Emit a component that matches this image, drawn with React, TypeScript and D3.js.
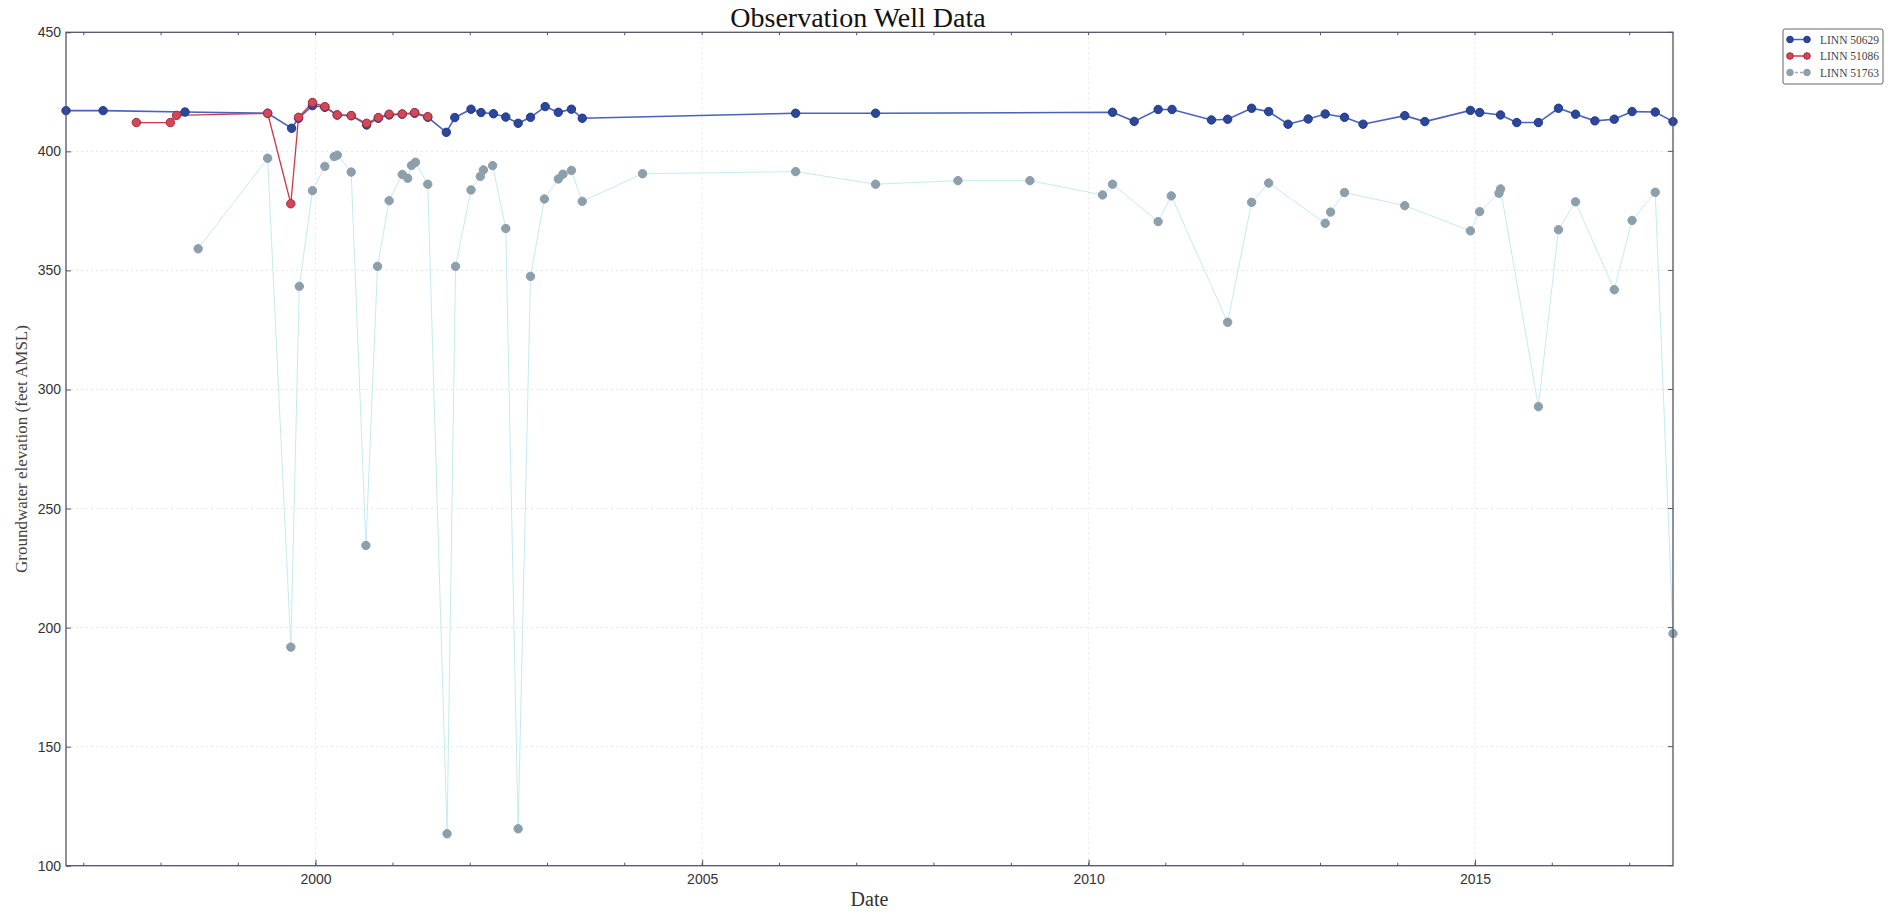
import React, { useEffect, useRef } from 'react';
import * as d3 from 'd3';

// LINN 50629 (blue)
const blueYears = [
  1996.77, 1997.25, 1998.31, 1999.38, 1999.69, 1999.78, 1999.96, 2000.12, 2000.28, 2000.46,
  2000.66, 2000.81, 2000.95, 2001.12, 2001.28, 2001.45, 2001.69, 2001.80, 2002.01, 2002.14,
  2002.30, 2002.46, 2002.62, 2002.78, 2002.97, 2003.14, 2003.31, 2003.45, 2006.21, 2007.245,
  2010.31, 2010.59, 2010.90, 2011.08, 2011.59, 2011.80, 2012.11, 2012.33, 2012.58, 2012.84,
  2013.06, 2013.31, 2013.55, 2014.09, 2014.35, 2014.94, 2015.06, 2015.33, 2015.54, 2015.82,
  2016.08, 2016.30, 2016.55, 2016.80, 2017.03, 2017.33, 2017.56,
];
const blueLevels = [
  417.1, 417.1, 416.5, 416.0, 409.7, 413.9, 419.2, 418.5, 415.3, 415.0,
  411.1, 413.9, 415.3, 415.6, 416.0, 414.3, 408.0, 414.2, 417.7, 416.3,
  415.8, 414.4, 411.8, 414.3, 418.8, 416.4, 417.7, 413.9, 416.0, 416.0,
  416.4, 412.6, 417.6, 417.6, 413.2, 413.5, 418.1, 416.7, 411.4, 413.6,
  415.7, 414.3, 411.4, 415.0, 412.5, 417.2, 416.3, 415.3, 412.1, 412.1,
  418.1, 415.6, 412.8, 413.5, 416.7, 416.5, 412.5,
];

// LINN 51086 (red)
const redYears = [
  1997.68, 1998.12, 1998.20, 1999.38, 1999.68, 1999.78, 1999.96, 2000.12, 2000.28, 2000.46,
  2000.66, 2000.81, 2000.95, 2001.12, 2001.28, 2001.45,
];
const redLevels = [
  412.1, 412.1, 415.1, 416.0, 378.0, 414.3, 420.5, 418.8, 415.3, 415.0,
  411.8, 414.2, 415.6, 415.7, 416.3, 414.6,
];

// LINN 51763 (grey)
const greyYears = [
  1998.48, 1999.38, 1999.68, 1999.79, 1999.96, 2000.12, 2000.24, 2000.28, 2000.46, 2000.65,
  2000.80, 2000.95, 2001.12, 2001.19, 2001.24, 2001.29, 2001.45, 2001.70, 2001.81, 2002.01,
  2002.13, 2002.17, 2002.29, 2002.46, 2002.62, 2002.78, 2002.96, 2003.14, 2003.20, 2003.31,
  2003.45, 2004.23, 2006.21, 2007.245, 2008.31, 2009.24, 2010.18, 2010.31, 2010.90, 2011.07,
  2011.80, 2012.11, 2012.33, 2013.06, 2013.13, 2013.31, 2014.09, 2014.94, 2015.06, 2015.31,
  2015.33, 2015.82, 2016.08, 2016.30, 2016.80, 2017.03, 2017.33, 2017.56,
];
const greyLevels = [
  359.1, 397.1, 191.8, 343.3, 383.5, 393.7, 397.8, 398.4, 391.3, 234.5,
  351.7, 379.3, 390.3, 388.7, 394.1, 395.4, 386.2, 113.4, 351.7, 383.8,
  389.5, 392.2, 394.0, 367.6, 115.5, 347.5, 380.0, 388.4, 390.4, 392.0,
  379.0, 390.6, 391.5, 386.2, 387.7, 387.7, 381.7, 386.2, 370.5, 381.3,
  328.2, 378.6, 386.7, 369.8, 374.5, 382.7, 377.2, 366.6, 374.7, 382.4,
  384.2, 292.8, 367.1, 378.8, 341.9, 371.0, 382.8, 197.5,
];

const seriesNames = ['LINN 50629', 'LINN 51086', 'LINN 51763'];
const yTicks = [100, 150, 200, 250, 300, 350, 400, 450];

const toDate = (yr) => {
  const y0 = Math.floor(yr);
  const a = Date.UTC(y0, 0, 1);
  const b = Date.UTC(y0 + 1, 0, 1);
  return new Date(a + (yr - y0) * (b - a));
};

function WellChart() {
  const ref = useRef(null);

  useEffect(() => {
    const svg = d3.select(ref.current);
    svg.selectAll('*').remove();

    const left = 66, right = 1673, top = 32.3, bottom = 865.7;

    const series = [
      { name: seriesNames[0], years: blueYears, levels: blueLevels, line: '#4862bd', lw: 1.6, fill: '#2c4799', edge: '#22398a', r: 4.2 },
      { name: seriesNames[1], years: redYears, levels: redLevels, line: '#cc3a48', lw: 1.3, fill: '#cf4a58', edge: '#ad2536', r: 4.2 },
      { name: seriesNames[2], years: greyYears, levels: greyLevels, line: '#c4ebf0', lw: 1, fill: '#8d9fab', edge: '#8d9fab', r: 4.2 },
    ].map(s => ({ ...s, pts: s.years.map((yr, i) => ({ d: toDate(yr), v: s.levels[i] })) }));

    const allDates = series.flatMap(s => s.pts.map(p => p.d));
    const x = d3.scaleTime().domain(d3.extent(allDates)).range([left, right]);
    const y = d3.scaleLinear().domain([100, 450]).range([bottom, top]);

    // grid
    const grid = svg.append('g');
    grid.selectAll('line.gy').data(yTicks).enter().append('line')
      .attr('x1', left).attr('x2', right)
      .attr('y1', d => y(d)).attr('y2', d => y(d))
      .attr('stroke', '#e0e0e0').attr('stroke-width', 0.8).attr('stroke-dasharray', '2,3');
    const xMajor = x.ticks(d3.timeYear.every(5));
    grid.selectAll('line.gx').data(xMajor).enter().append('line')
      .attr('x1', d => x(d)).attr('x2', d => x(d))
      .attr('y1', top).attr('y2', bottom)
      .attr('stroke', '#e0e0e0').attr('stroke-width', 0.8).attr('stroke-dasharray', '2,3');

    // lines and markers
    const line = d3.line().x(p => x(p.d)).y(p => y(p.v));
    series.forEach(s => {
      svg.append('path').datum(s.pts)
        .attr('d', line).attr('fill', 'none')
        .attr('stroke', s.line).attr('stroke-width', s.lw);
    });
    series.forEach(s => {
      svg.append('g').selectAll('circle').data(s.pts).enter().append('circle')
        .attr('cx', p => x(p.d)).attr('cy', p => y(p.v)).attr('r', s.r)
        .attr('fill', s.fill).attr('stroke', s.edge).attr('stroke-width', 1);
    });

    // frame
    svg.append('rect')
      .attr('x', left).attr('y', top).attr('width', right - left).attr('height', bottom - top)
      .attr('fill', 'none').attr('stroke', '#50536b').attr('stroke-width', 1.3);

    // ticks
    const tickFont = "'Liberation Sans', Arial, sans-serif";
    const xAxis = svg.append('g').attr('transform', `translate(0,${bottom})`)
      .call(d3.axisBottom(x).ticks(d3.timeYear.every(5)).tickFormat(d3.timeFormat('%Y')).tickSize(-6).tickPadding(8));
    xAxis.select('.domain').remove();
    xAxis.selectAll('text').attr('font-family', tickFont).attr('font-size', 14).attr('fill', '#333');
    xAxis.selectAll('line').attr('stroke', '#50536b');

    const minorX = x.ticks(d3.timeYear.every(1));
    svg.append('g').selectAll('line').data(minorX).enter().append('line')
      .attr('x1', d => x(d)).attr('x2', d => x(d))
      .attr('y1', bottom).attr('y2', bottom - 3)
      .attr('stroke', '#50536b');
    svg.append('g').selectAll('line').data(minorX).enter().append('line')
      .attr('x1', d => x(d)).attr('x2', d => x(d))
      .attr('y1', top).attr('y2', top + 3)
      .attr('stroke', '#50536b');

    const yAxis = svg.append('g').attr('transform', `translate(${left},0)`)
      .call(d3.axisLeft(y).tickValues(yTicks).tickSize(-5).tickPadding(5));
    yAxis.select('.domain').remove();
    yAxis.selectAll('text').attr('font-family', tickFont).attr('font-size', 14).attr('fill', '#333');
    yAxis.selectAll('line').attr('stroke', '#50536b');
    svg.append('g').selectAll('line').data(yTicks).enter().append('line')
      .attr('x1', right).attr('x2', right - 5)
      .attr('y1', d => y(d)).attr('y2', d => y(d))
      .attr('stroke', '#50536b');

    // titles
    const serif = "'Liberation Serif', 'Times New Roman', serif";
    svg.append('text').attr('x', 858).attr('y', 27).attr('text-anchor', 'middle')
      .attr('font-family', serif).attr('font-size', 28).attr('fill', '#111')
      .text('Observation Well Data');
    svg.append('text').attr('x', (left + right) / 2).attr('y', 906).attr('text-anchor', 'middle')
      .attr('font-family', serif).attr('font-size', 20).attr('fill', '#333')
      .text('Date');
    svg.append('text').attr('transform', `translate(27,${(top + bottom) / 2}) rotate(-90)`)
      .attr('text-anchor', 'middle')
      .attr('font-family', serif).attr('font-size', 17).attr('fill', '#444')
      .text('Groundwater elevation (feet AMSL)');

    // legend
    const lg = svg.append('g').attr('transform', 'translate(1783,29)');
    lg.append('rect').attr('width', 100).attr('height', 55).attr('rx', 2)
      .attr('fill', '#fff').attr('stroke', '#666').attr('stroke-width', 1);
    series.forEach((s, i) => {
      const cy = 10.5 + i * 16.5;
      lg.append('line').attr('x1', 7).attr('x2', 24).attr('y1', cy).attr('y2', cy)
        .attr('stroke', i === 2 ? '#9fb0b8' : s.line).attr('stroke-width', 1.5)
        .attr('stroke-dasharray', i === 2 ? '3,2' : null);
      [7, 24].forEach(cx => {
        lg.append('circle').attr('cx', cx).attr('cy', cy).attr('r', 3.3)
          .attr('fill', s.fill).attr('stroke', s.edge);
      });
      lg.append('text').attr('x', 37).attr('y', cy + 4)
        .attr('font-family', serif).attr('font-size', 11.5).attr('fill', '#444')
        .text(s.name);
    });
  }, []);

  return <svg ref={ref} width={1900} height={915} style={{ position: 'absolute', left: 0, top: 0, background: '#fff' }} />;
}

export default function App() {
  return <WellChart />;
}
